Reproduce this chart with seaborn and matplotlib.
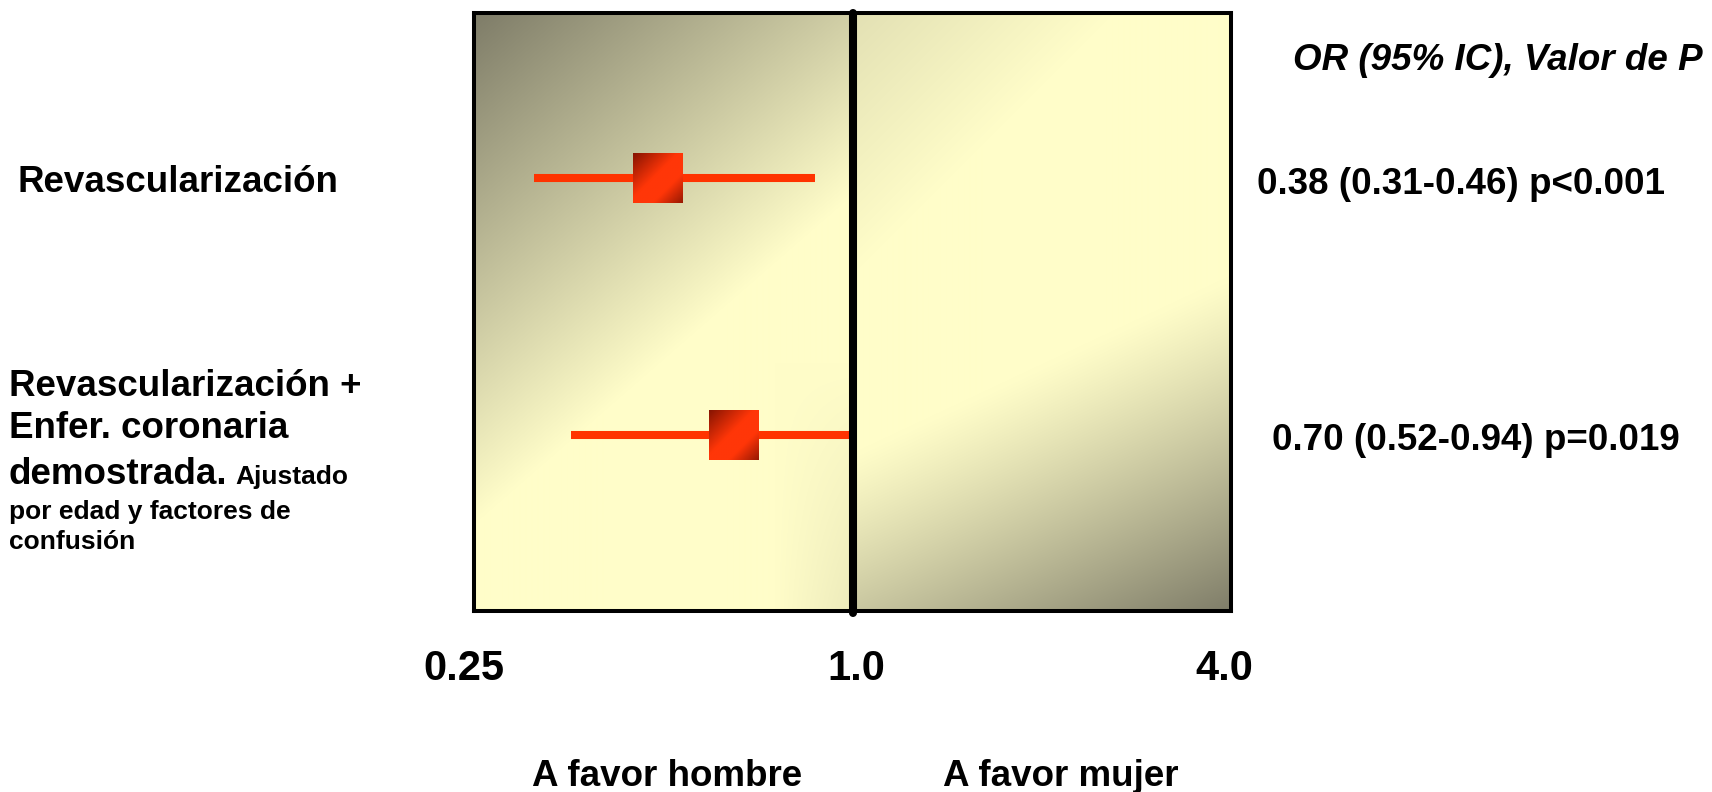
import numpy as np
import pandas as pd
import matplotlib
matplotlib.use("Agg")
import matplotlib.pyplot as plt
import matplotlib.transforms as mtransforms
import seaborn as sns

# ---- data ----
rows = [0, 1]
or_point = [0.49, 0.648]
ci_low = [0.311, 0.357]
ci_high = [0.872, 1.0]
row_labels_right = ["0.38 (0.31-0.46) p<0.001", "0.70 (0.52-0.94) p=0.019"]
tick_vals = [0.25, 1.0, 4.0]
tick_labels = ["0.25", "1.0", "4.0"]

W, H = 1712, 792
sns.set_theme(style="white")
plt.rcParams['font.family'] = ['Liberation Sans', 'DejaVu Sans']
plt.rcParams['text.color'] = 'black'
plt.rcParams['xtick.color'] = 'black'

fig = plt.figure(figsize=(W / 100, H / 100), dpi=100)
fig.patch.set_facecolor("white")
renderer = fig.canvas.get_renderer()


def fx(x):
    return x / W


def fy(y):
    return 1 - y / H


ax_l, ax_r, ax_t, ax_b = 474, 1231, 13, 611
ax = fig.add_axes([fx(ax_l), fy(ax_b), fx(ax_r - ax_l), (ax_b - ax_t) / H])
ax.set_xscale("log")
unit = 435 - 178
ylims = (1 + (ax_b - 435) / unit, -(178 - ax_t) / unit)

# ---- background gradients ----
light = np.array([255, 253, 201]) / 255
dark = np.array([126, 124, 104]) / 255
hw = int((ax_r - ax_l) / 2)
hh = ax_b - ax_t
px, py = np.meshgrid(np.arange(hw), np.arange(hh))
s_l = 0.87 * px + py
d_left = np.clip(1 - s_l / 510.0, 0, 1)
d_left += 0.15 * np.clip((px - 300) / 80.0, 0, 1) * np.clip((py - 350) / 250.0, 0, 1)
s_r = 0.47 * px + py
d_right = np.clip((s_r - 440.0) / 336.0, 0, 1) ** 1.15
d_right += 0.22 * np.clip(1 - (px + py) / 260.0, 0, 1)
d_left = np.clip(d_left, 0, 1)
d_right = np.clip(d_right, 0, 1)
img_l = light[None, None, :] + (dark - light)[None, None, :] * d_left[..., None]
img_r = light[None, None, :] + (dark - light)[None, None, :] * d_right[..., None]
ax.imshow(img_l, extent=[0, 0.5, 0, 1], transform=ax.transAxes, aspect="auto",
          origin="upper", zorder=0, interpolation="bilinear")
ax.imshow(img_r, extent=[0.5, 1, 0, 1], transform=ax.transAxes, aspect="auto",
          origin="upper", zorder=0, interpolation="bilinear")
ax.set_xlim(0.25, 4.0)
ax.set_ylim(*ylims)

# ---- CI lines and points ----
ax.hlines(rows, ci_low, ci_high, color="#FF3300", lw=5.8, zorder=3, capstyle="butt")
df = pd.DataFrame({"OR": or_point, "row": rows})
sq_px = 50
sns.scatterplot(data=df, x="OR", y="row", marker="s", s=(sq_px * 0.72) ** 2,
                color="#F03308", edgecolor="none", linewidth=0, zorder=4,
                ax=ax, legend=False)

# shaded face for each square marker (placed at the marker's own position)
n = 60
gx, gy = np.meshgrid(np.linspace(0, 1, n), np.linspace(0, 1, n))
u = (gx + gy) / 2
dark_red = np.array([0x86, 0x14, 0x02]) / 255
bright = np.array([0xFF, 0x36, 0x08]) / 255
k = np.where(u < 0.45, 1 - u / 0.45, np.clip((u - 0.7) / 0.3, 0, 1) * 0.85)
sq_img = bright[None, None, :] + (dark_red - bright)[None, None, :] * k[..., None]
to_axes = ax.transAxes.inverted()
for xv, yv in zip(or_point, rows):
    cx, cy = ax.transData.transform((xv, yv))
    (x0, y0) = to_axes.transform((cx - sq_px / 2, cy - sq_px / 2))
    (x1, y1) = to_axes.transform((cx + sq_px / 2, cy + sq_px / 2))
    ax.imshow(sq_img, extent=[x0, x1, y0, y1], transform=ax.transAxes,
              aspect="auto", origin="upper", zorder=4.5, interpolation="bilinear")
ax.set_xlim(0.25, 4.0)
ax.set_ylim(*ylims)

# reference line at 1.0
ax.axvline(1.0, color="black", lw=5.8, zorder=5, clip_on=False, ymin=-0.004, ymax=1)

# frame
for sp in ax.spines.values():
    sp.set_visible(True)
    sp.set_color("black")
    sp.set_linewidth(2.9)
    sp.set_zorder(6)

big = 26.5
small = 19

ax.set_xlabel("")
ax.set_ylabel("")
ax.set_yticks([])
ax.xaxis.set_minor_locator(matplotlib.ticker.NullLocator())
ax.set_xticks(tick_vals)
ax.set_xticklabels(tick_labels)
ax.tick_params(axis="x", length=0, pad=41.5)
label_shift_px = [-10, 4, -7]
for lab, dx in zip(ax.get_xticklabels(), label_shift_px):
    lab.set_fontsize(30)
    lab.set_fontweight("bold")
    lab.set_color("black")
    lab.set_va("center")
    lab.set_transform(lab.get_transform() +
                      mtransforms.ScaledTranslation(dx / 100, 0, fig.dpi_scale_trans))

# ---- left labels ----
fig.text(fx(17), fy(182), "Revascularización", fontsize=big, fontweight="bold",
         va="center", ha="left")
fig.text(fx(9), fy(386), "Revascularización +", fontsize=big, fontweight="bold",
         va="center", ha="left")
fig.text(fx(9), fy(428), "Enfer. coronaria", fontsize=big, fontweight="bold",
         va="center", ha="left")
t_dem = fig.text(fx(9), fy(484), "demostrada.", fontsize=big, fontweight="bold",
                 va="baseline", ha="left")
bb = t_dem.get_window_extent(renderer=renderer)
fig.text((bb.x1 + 8) / W, fy(484), "Ajustado", fontsize=small, fontweight="bold",
         va="baseline", ha="left")
fig.text(fx(9), fy(512), "por edad y factores de", fontsize=small, fontweight="bold",
         va="center", ha="left")
fig.text(fx(9), fy(542), "confusión", fontsize=small, fontweight="bold",
         va="center", ha="left")

# ---- right labels ----
fig.text(fx(1293), fy(60), "OR (95% IC), Valor de P", fontsize=big, fontweight="bold",
         fontstyle="italic", va="center", ha="left")
fig.text(fx(1257), fy(184), row_labels_right[0], fontsize=big, fontweight="bold",
         va="center", ha="left")
fig.text(fx(1272), fy(441), row_labels_right[1], fontsize=big, fontweight="bold",
         va="center", ha="left")

# ---- bottom labels ----
fig.text(fx(667), fy(777), "A favor hombre", fontsize=big, fontweight="bold",
         va="center", ha="center")
fig.text(fx(1061), fy(777), "A favor mujer", fontsize=big, fontweight="bold",
         va="center", ha="center")

fig.savefig("out.png", dpi=100, facecolor="white")
